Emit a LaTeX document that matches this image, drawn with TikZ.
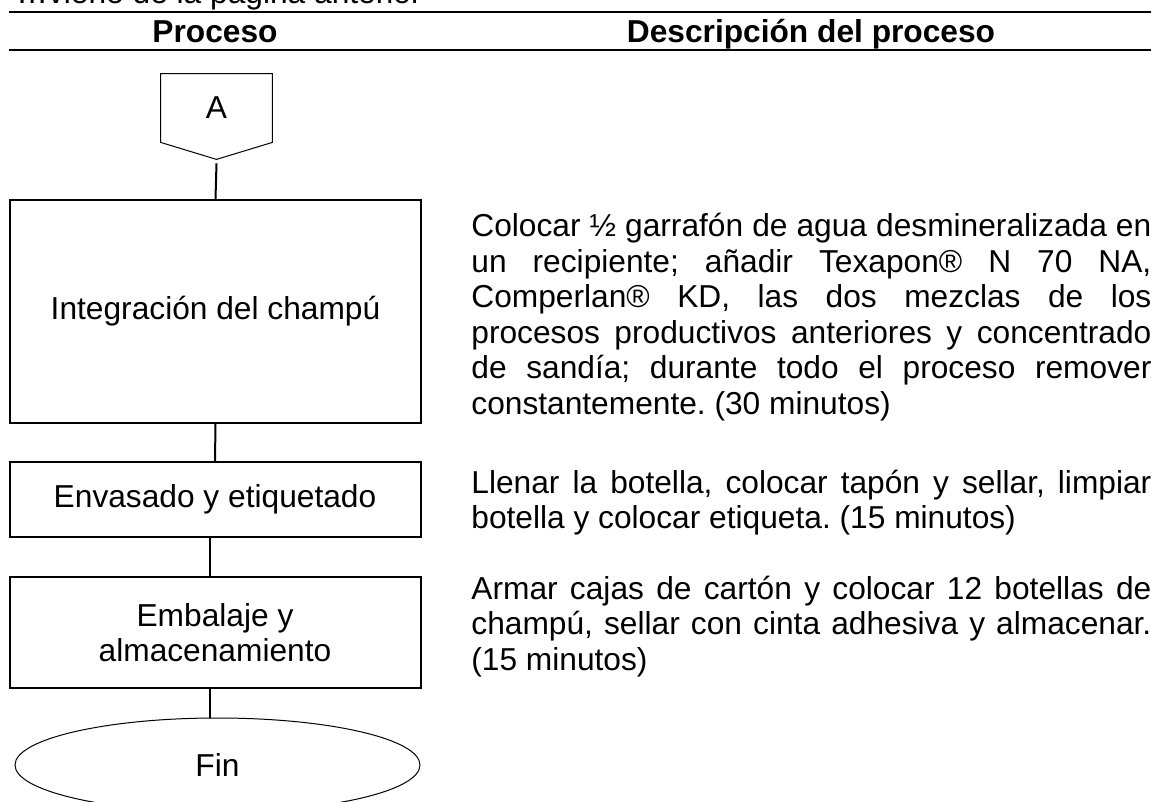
\documentclass[tikz,border=0pt]{standalone}
\usepackage{fontspec}
\setmainfont{Liberation Sans}
\usetikzlibrary{shapes.geometric}
\tolerance=10000
\hbadness=10000
\frenchspacing

\tikzset{
  texto/.style={font=\fontsize{15.85pt}{17.75pt}\selectfont},
  encabezado/.style={font=\fontsize{15.85pt}{17.75pt}\selectfont\bfseries, anchor=base},
  proceso/.style={texto, draw, line width=1pt, minimum width=205.5pt, align=center, inner sep=0pt},
  terminal/.style={texto, draw, ellipse, line width=0.5pt, minimum width=202.5pt, minimum height=47pt},
  descripcion/.style={texto, text width=340pt, align=justify, anchor=base west, inner sep=0pt},
  linea/.style={line width=1pt}
}

\begin{document}
\begin{tikzpicture}[x=0.5pt,y=-0.5pt]
\useasboundingbox (0,0) rectangle (1151,802);

\node[texto, anchor=base west, inner sep=0pt] (viene) at (16,4) {…viene de la página anterior};
\draw[linea] (9,12.5) -- (1151,12.5);
\node[encabezado] (hproceso) at (215,43) {Proceso};
\node[encabezado] (hdescripcion) at (811,43) {Descripción del proceso};
\draw[linea] (9,50) -- (1151,50);

\node[texto, minimum width=55.5pt, minimum height=34pt, inner sep=0pt] (A) at (216.5,108) {A};
\draw[line width=0.5pt] (A.north west) -- (A.north east) -- (A.south east)
  -- ([yshift=-8.5pt]A.south) coordinate (Apunta) -- (A.south west) -- cycle;

\node[proceso, minimum height=111.5pt] (integracion) at (215.5,311.5) {Integración del champú};
\node[proceso, minimum height=37.5pt] (envasado) at (215,499.5) {Envasado y etiquetado};
\node[proceso, minimum height=55.5pt] (embalaje) at (215,632.5) {Embalaje y\\almacenamiento};
\node[terminal] (fin) at (217.5,765) {Fin};

\draw[linea] ([yshift=-2pt]Apunta) -- (integracion.north);
\draw[linea] (integracion.south) -- (envasado.north);
\draw[linea] ([xshift=-2.5pt]envasado.south) -- ([xshift=-2.5pt]embalaje.north);
\draw[linea] ([xshift=-2.5pt]embalaje.south) -- ([xshift=-2.5pt]embalaje.south |- fin.north);

\node[descripcion] (dintegracion) at (471,237) {Colocar ½ garrafón de agua desmineralizada en\linebreak
  un recipiente; añadir Texapon® N 70 NA,\linebreak
  Comperlan® KD, las dos mezclas de los\linebreak
  procesos productivos anteriores y concentrado\linebreak
  de sandía; durante todo el proceso remover\linebreak
  constantemente. (30 minutos)};
\node[descripcion] (denvasado) at (471,493) {Llenar la botella, colocar tapón y sellar, limpiar\linebreak
  botella y colocar etiqueta. (15 minutos)};
\node[descripcion] (dembalaje) at (471,599) {Armar cajas de cartón y colocar 12 botellas de\linebreak
  champú, sellar con cinta adhesiva y almacenar.\linebreak
  (15 minutos)};
\end{tikzpicture}
\end{document}
